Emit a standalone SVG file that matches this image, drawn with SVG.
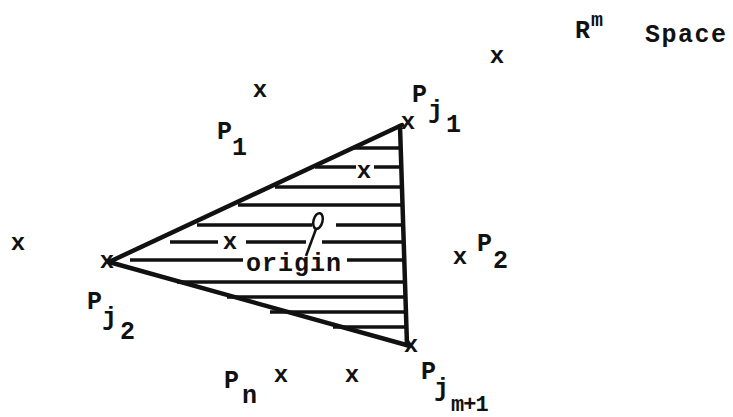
<svg xmlns="http://www.w3.org/2000/svg" width="733" height="417" viewBox="0 0 733 417">
<style>
.t{font-family:"Liberation Mono","Courier New",monospace;font-weight:bold;font-size:25px;fill:#111}
.x{font-family:"Liberation Mono","Courier New",monospace;font-weight:bold;font-size:24px;fill:#111;text-anchor:middle}
.e{stroke:#111;stroke-width:4.5;stroke-linecap:round;fill:none}
.h{stroke:#111;stroke-width:3.5;stroke-linecap:butt;fill:none}
</style>
<rect width="733" height="417" fill="#fff"/>
<g id="title">
<text class="t" x="575" y="38">R</text>
<text class="t" x="591" y="26" style="font-size:20px">m</text>
<text class="t" x="645" y="42" style="letter-spacing:1.5px">Space</text>
</g>
<g id="hatching">
<line class="h" x1="353" y1="148" x2="401" y2="148"/>
<line class="h" x1="315" y1="167" x2="356" y2="167"/>
<line class="h" x1="374" y1="167" x2="401" y2="167"/>
<line class="h" x1="275" y1="187" x2="402" y2="187"/>
<line class="h" x1="238" y1="205" x2="402" y2="205"/>
<line class="h" x1="197" y1="225" x2="312" y2="225"/>
<line class="h" x1="336" y1="225" x2="403" y2="225"/>
<line class="h" x1="170" y1="242" x2="218" y2="242"/>
<line class="h" x1="246" y1="242" x2="306" y2="242"/>
<line class="h" x1="322" y1="242" x2="403" y2="242"/>
<line class="h" x1="130" y1="260" x2="243" y2="260"/>
<line class="h" x1="347" y1="260" x2="404" y2="260"/>
<line class="h" x1="177" y1="282" x2="405" y2="282"/>
<line class="h" x1="227" y1="297" x2="405" y2="297"/>
<line class="h" x1="270" y1="312" x2="406" y2="312"/>
<line class="h" x1="333" y1="327" x2="406" y2="327"/>
</g>
<g id="connectors">
<line class="e" x1="109" y1="262" x2="402" y2="125"/>
<line class="e" x1="109" y1="262" x2="410" y2="346"/>
<line class="e" x1="400" y1="126" x2="407" y2="345"/>
</g>
<g id="origin">
<ellipse cx="318" cy="221" rx="4.5" ry="8" fill="none" stroke="#111" stroke-width="2.5" transform="rotate(15 318 221)"/>
<line x1="316" y1="229" x2="306" y2="256" stroke="#111" stroke-width="2.5"/>
<text class="t" x="246" y="271" style="letter-spacing:1px">origin</text>
</g>
<g id="points">
<text class="x" x="497" y="63">x</text>
<text class="x" x="260" y="97">x</text>
<text class="x" x="408" y="129">x</text>
<text class="x" x="364" y="178">x</text>
<text class="x" x="18" y="250">x</text>
<text class="x" x="107" y="268">x</text>
<text class="x" x="230" y="249">x</text>
<text class="x" x="460" y="264">x</text>
<text class="x" x="411" y="352">x</text>
<text class="x" x="281" y="382">x</text>
<text class="x" x="352" y="382">x</text>
</g>
<g id="P1"><text class="t" x="217" y="139">P</text><text class="t" x="232" y="155">1</text></g>
<g id="Pj1"><text class="t" x="412" y="102">P</text><text class="t" x="428" y="118">j</text><text class="t" x="446" y="132">1</text></g>
<g id="Pj2"><text class="t" x="87" y="309">P</text><text class="t" x="102" y="325">j</text><text class="t" x="120" y="339">2</text></g>
<g id="P2"><text class="t" x="477" y="251">P</text><text class="t" x="493" y="268">2</text></g>
<g id="Pn"><text class="t" x="224" y="388">P</text><text class="t" x="242" y="403">n</text></g>
<g id="Pjm1"><text class="t" x="421" y="379">P</text><text class="t" x="434" y="396">j</text><text class="t" x="451" y="411" style="font-size:22px;letter-spacing:-1px">m+1</text></g>
</svg>
